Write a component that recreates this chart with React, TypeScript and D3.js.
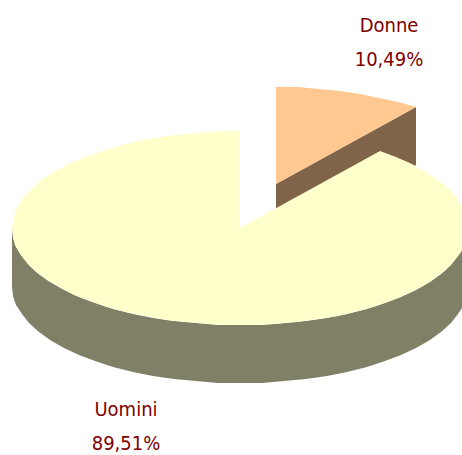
import React from "react";
import * as d3 from "d3";

const categories = ["Donne", "Uomini"];
const values = [10.49, 89.51];
const valueLabels = ["10,49%", "89,51%"];
const topColors = ["#ffc890", "#ffffcc"];
const sideColors = ["#806449", "#808066"];

const width = 462;
const height = 455;
const rx = 228;
const ry = 97;
const depth = 58;
const center: [number, number] = [240, 228];
const explode: [number, number] = [36, -44];
const labelPos: [number, number][] = [[389, 32], [126, 416]];
const labelGap = 34;

const pie = d3.pie<number>().sort(null)(values);

// point on the rim, angle clockwise from 12 o'clock
const rim = (a: number): [number, number] => [
  Math.round(rx * Math.sin(a)),
  Math.round(-ry * Math.cos(a)),
];

const line = d3.line();

const rimPoints = (a0: number, a1: number) => {
  const n = Math.ceil((Math.abs(a1 - a0) / (Math.PI * 2)) * 64);
  return d3.range(n + 1).map((i) => rim(a0 + ((a1 - a0) * i) / n));
};

// outer wall, only the front half of the ellipse can be seen
const wallPath = (a0: number, a1: number) => {
  const from = Math.max(a0, Math.PI / 2);
  const to = Math.min(a1, Math.PI * 1.5);
  if (from >= to) return null;
  const pts = rimPoints(from, to);
  const low = pts.map(([x, y]) => [x, y + depth] as [number, number]).reverse();
  return line([...pts, ...low]);
};

const topPath = (a0: number, a1: number) =>
  line([[0, 0], ...rimPoints(a0, a1)]) + "Z";

// flat wall from the centre out to the rim at angle a
const cutPath = (a: number) => {
  const [x, y] = rim(a);
  return line([[0, 0], [x, y], [x, y + depth], [0, depth]]) + "Z";
};

export default function App() {
  const font = "'DejaVu Sans Condensed', 'DejaVu Sans', sans-serif";
  return (
    <svg
      width={width}
      height={height}
      viewBox={`0 0 ${width} ${height}`}
      style={{ position: "absolute", left: 0, top: 0 }}
    >
      {pie.map((d, i) => {
        const off = i === 0 ? explode : [0, 0];
        const wall = wallPath(d.startAngle, d.endAngle);
        return (
          <g key={categories[i]} transform={`translate(${center[0] + off[0]},${center[1] + off[1]})`}>
            {i === 0 && <path d={cutPath(d.endAngle)} fill={sideColors[i]} />}
            {i === 1 && wall && <path d={wall} fill={sideColors[i]} />}
            <path d={topPath(d.startAngle, d.endAngle)} fill={topColors[i]} />
          </g>
        );
      })}
      {categories.map((c, i) => (
        <text
          key={c}
          textAnchor="middle"
          fontFamily={font}
          fontSize={20}
          fill="#800000"
        >
          <tspan x={labelPos[i][0]} y={labelPos[i][1]}>{c}</tspan>
          <tspan x={labelPos[i][0]} y={labelPos[i][1] + labelGap}>{valueLabels[i]}</tspan>
        </text>
      ))}
    </svg>
  );
}
